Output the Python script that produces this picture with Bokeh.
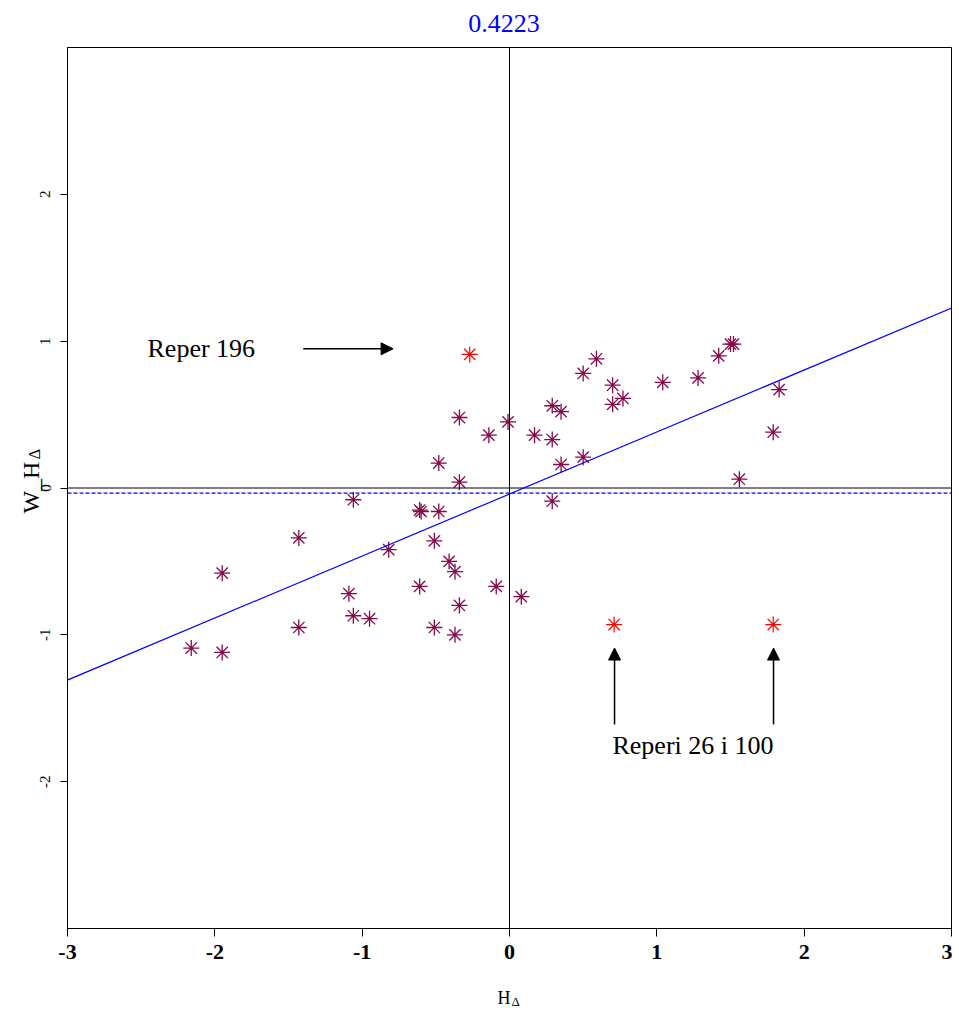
import numpy as np
from bokeh.plotting import figure
from bokeh.models import Span, Slope, Arrow, NormalHead, Label, FixedTicker
from bokeh.embed import file_html
from bokeh.resources import INLINE

# ---- data ----
hx = [-2.16, -1.95, -1.95, -1.43, -1.43, -1.06, -1.09, -1.06, -0.95, -0.82,
      -0.60, -0.61, -0.61, -0.48, -0.48, -0.51, -0.51, -0.41, -0.37, -0.34,
      -0.34, -0.34, -0.37, -0.14, -0.09, -0.01, 0.08, 0.17, 0.29, 0.35,
      0.29, 0.50, 0.59, 0.70, 0.77, 0.70, 0.35, 0.50, 0.29, 1.04,
      1.28, 1.42, 1.50, 1.52, 1.83, 1.79, 1.56]
wy = [-1.09, -1.12, -0.58, -0.34, -0.95, -0.08, -0.72, -0.87, -0.89, -0.42,
      -0.16, -0.15, -0.67, 0.17, -0.16, -0.36, -0.95, -0.50, -0.57, 0.48,
      0.04, -0.80, -1.00, 0.36, -0.67, 0.45, -0.74, 0.36, 0.56, 0.52,
      0.33, 0.78, 0.88, 0.70, 0.61, 0.57, 0.16, 0.21, -0.09, 0.72,
      0.75, 0.90, 0.98, 0.98, 0.67, 0.38, 0.06]
out_x = [-0.27, 0.71, 1.79]
out_y = [0.91, -0.93, -0.93]

slope = 0.4223
intercept = -0.041
mean_w = -0.035

x_ticks = [-3, -2, -1, 0, 1, 2, 3]
y_ticks = [-2, -1, 0, 1, 2]

# annotation arrows: (x_start, y_start, x_end, y_end)
arrows = [(-1.40, 0.948, -0.79, 0.948),
          (0.713, -1.61, 0.713, -1.09),
          (1.792, -1.61, 1.792, -1.09)]

SERIF = "Liberation Serif"

p = figure(width=952, height=1008, x_range=(-3, 3), y_range=(-3, 3),
           output_backend="svg", toolbar_location=None,
           min_border_left=67, min_border_right=1,
           min_border_top=47, min_border_bottom=80)
p.background_fill_color = "white"
p.border_fill_color = "white"
p.outline_line_color = "black"
p.outline_line_width = 1
p.xgrid.visible = False
p.ygrid.visible = False

for ax in (p.xaxis[0], p.yaxis[0]):
    ax.axis_line_color = "black"
    ax.major_tick_line_color = "black"
    ax.minor_tick_line_color = None
    ax.major_tick_in = 0
    ax.major_tick_out = 8
    ax.major_label_text_font = SERIF
    ax.major_label_text_color = "black"

p.xaxis.ticker = FixedTicker(ticks=x_ticks)
p.yaxis.ticker = FixedTicker(ticks=y_ticks)
p.xaxis.major_label_overrides = {t: str(t) for t in x_ticks}
p.yaxis.major_label_overrides = {t: str(t) for t in y_ticks}
p.xaxis.major_label_text_font_size = "22px"
p.xaxis.major_label_text_font_style = "bold"
p.xaxis.major_label_standoff = 8
p.yaxis.major_label_text_font_size = "15px"
p.yaxis.major_label_orientation = "vertical"
p.yaxis.major_label_standoff = 10
p.yaxis.major_tick_out = 7

# reference lines
p.add_layout(Span(location=0, dimension="width", line_color="black", line_width=1))
p.add_layout(Span(location=0, dimension="height", line_color="black", line_width=1))
p.add_layout(Span(location=mean_w, dimension="width", line_color="blue",
                  line_width=1.2, line_dash="4 2"))
p.add_layout(Slope(gradient=slope, y_intercept=intercept, line_color="blue", line_width=1.2))

# points
p.scatter(hx, wy, marker="asterisk", size=16, line_color="#840A4A", line_width=1.3)
p.scatter(out_x, out_y, marker="asterisk", size=16, line_color="red", line_width=1.2)

# arrows
for xs, ys, xe, ye in arrows:
    p.add_layout(Arrow(end=NormalHead(size=12, fill_color="black", line_color="black"),
                       x_start=xs, y_start=ys, x_end=xe, y_end=ye,
                       line_color="black", line_width=1.5))

# annotation texts
p.add_layout(Label(x=-2.457, y=0.948, text="Reper 196", text_font=SERIF,
                   text_font_size="26px", text_baseline="middle", text_align="left",
                   text_color="black"))
p.add_layout(Label(x=0.699, y=-1.752, text="Reperi 26 i 100", text_font=SERIF,
                   text_font_size="26px", text_baseline="middle", text_align="left",
                   text_color="black"))

# title (placed in the top panel so it is not clipped)
p.add_layout(Label(x=-0.037, y=3.165, text="0.4223", text_font=SERIF,
                   text_font_size="26px", text_baseline="alphabetic", text_align="center",
                   text_color="blue"), "above")

# x axis label  H_Δ
p.add_layout(Label(x=0.007, y=-3.47, text="H", text_font=SERIF,
                   text_font_size="18px", text_baseline="alphabetic", text_align="right",
                   text_color="black"), "below")
p.add_layout(Label(x=0.014, y=-3.495, text="Δ", text_font=SERIF,
                   text_font_size="13px", text_baseline="alphabetic", text_align="left",
                   text_color="black"), "below")

# y axis label  W_H_Δ
p.add_layout(Label(x=-3.25, y=0.003, text="W_H", text_font=SERIF, angle=np.pi / 2,
                   text_font_size="24px", text_baseline="alphabetic", text_align="center",
                   text_color="black"), "left")
p.add_layout(Label(x=-3.222, y=0.195, text="Δ", text_font=SERIF, angle=np.pi / 2,
                   text_font_size="16px", text_baseline="alphabetic", text_align="left",
                   text_color="black"), "above")

open("out.html", "w").write(file_html(p, INLINE))
